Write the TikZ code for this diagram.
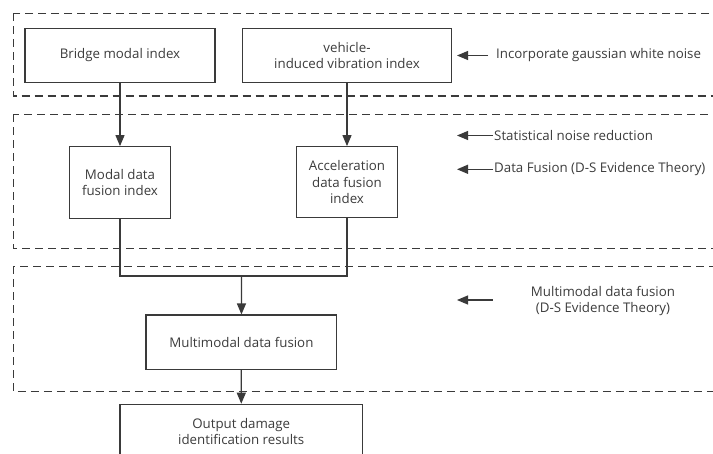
\documentclass[tikz,border=0pt]{standalone}
\usepackage{fontspec}
\setmainfont{Open Sans}
\usetikzlibrary{arrows.meta}
\definecolor{linegray}{HTML}{3A3A3A}
\definecolor{textgray}{HTML}{3C3C3C}

\begin{document}
\begin{tikzpicture}[x=1pt,y=-1pt,
    font=\fontsize{13.3}{16.5}\selectfont,
    box/.style={draw=linegray,line width=1.2pt,text=textgray,align=center,inner sep=0pt},
    frame/.style={draw=linegray,line width=1.2pt,dash pattern=on 8pt off 5pt},
    note/.style={text=textgray,align=center,inner sep=1pt},
    link/.style={draw=linegray,line width=1.2pt},
    arr/.style={link,-{Triangle[length=11pt,width=9pt]}}]
    \clip (0,0) rectangle (713,453);
    \fill[white] (0,0) rectangle (713,453);
    % dashed stages
    \draw[frame] (13.3,13.3) rectangle (740,96);
    \draw[frame] (13.3,114.3) rectangle (740,248.3);
    \draw[frame] (13.3,266.3) rectangle (740,391.7);
    % boxes
    \node[box,minimum width=190pt,minimum height=54pt] (bridge) at (120,55.3)
    {Bridge modal index}; \node[box,minimum width=209.4pt,minimum height=54pt]
    (vehicle) at (347,55.3) {vehicle-\\induced vibration index};
    \node[box,minimum width=101.4pt,minimum height=71.6pt] (modal) at (120,182.5)
    {Modal data\\fusion index}; \node[box,minimum width=100.6pt,minimum height=71pt]
    (accel) at (347,182.2) {Acceleration\\data fusion\\index};
    \node[box,minimum width=190.7pt,minimum height=54.3pt] (multi) at (241.4,342.2)
    {Multimodal data fusion}; \node[box,minimum width=242.3pt,minimum height=54pt]
    (output) at (241.2,431.3) {Output damage\\identification results};
    \draw[arr] (bridge) -- (modal); \draw[arr] (vehicle) -- (accel);
    \coordinate (join) at (241.5,276);
    \draw[link] (modal.south) |- (join) -| (accel.south);
    \draw[arr] (join) -- (multi); \draw[arr] (multi) -- (output);
    % side notes
    \node[note,anchor=west,inner xsep=8pt] (noise) at (488,55.5)
    {Incorporate gaussian white noise}; \node[note,anchor=west] (reduce) at (493,135.5)
    {Statistical noise reduction}; \node[note,anchor=west] (fusion) at (493,169.3)
    {Data Fusion (D-S Evidence Theory)}; \node[note] (multinote) at (603,300.8)
    {Multimodal data fusion\\(D-S Evidence Theory)};
    \coordinate (tipa) at (457,55.5); \coordinate (tipb) at (457,135.5);
    \coordinate (tipc) at (457,169.3); \coordinate (tipd) at (457,300);
    \coordinate (taild) at (492.7,300);
    \draw[arr] (noise.west) -- (tipa); \draw[arr] (reduce.west) -- (tipb);
    \draw[arr] (fusion.west) -- (tipc); \draw[arr] (taild) -- (tipd);
  \end{tikzpicture}
\end{document}
